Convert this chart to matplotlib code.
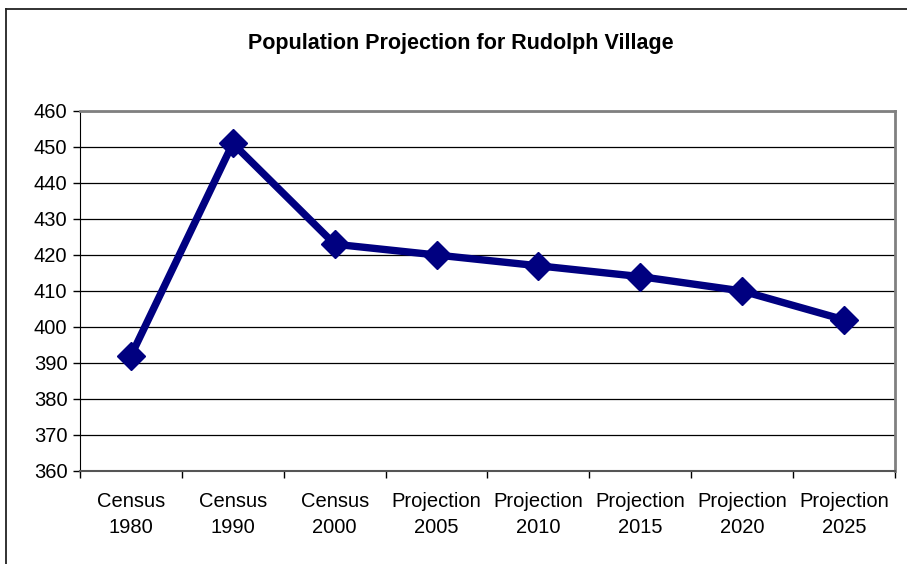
import numpy as np
import matplotlib.pyplot as plt
from matplotlib.lines import Line2D
from matplotlib.ticker import MultipleLocator, FixedLocator

plt.rcParams['font.family'] = ['Liberation Sans', 'DejaVu Sans']

# population by census / projection year
categories = ['Census\n1980', 'Census\n1990', 'Census\n2000', 'Projection\n2005',
              'Projection\n2010', 'Projection\n2015', 'Projection\n2020', 'Projection\n2025']
population = [392, 451, 423, 420, 417, 414, 410, 402]

W, H = 907, 564
fig = plt.figure(figsize=(W / 100, H / 100), dpi=100)

# outer chart frame (runs off the right and bottom edges)
fig.add_artist(Line2D([6 / W, 6 / W], [0, 1 - 9 / H], color='#222222', lw=1.3))
fig.add_artist(Line2D([6 / W, 1], [1 - 9 / H, 1 - 9 / H], color='#222222', lw=1.3))

ax = fig.add_axes([80 / W, (H - 471) / H, 815 / W, 360 / H])

x = np.arange(len(categories))
ax.plot(x, population, color='#000080', lw=5.3, marker='D', markersize=14.5,
        markerfacecolor='#000080', markeredgecolor='#000080', solid_joinstyle='miter',
        zorder=3)

ax.set_xlim(-0.5, len(categories) - 0.5)
ax.set_ylim(360, 460)
ax.yaxis.set_major_locator(MultipleLocator(10))
ax.grid(axis='y', color='black', lw=0.9)

ax.set_xticks(x)
ax.set_xticklabels(categories, fontsize=14.5, linespacing=1.45)
ax.xaxis.set_minor_locator(FixedLocator(np.arange(len(categories) + 1) - 0.5))
ax.tick_params(axis='x', which='major', length=0, pad=15)
ax.tick_params(axis='x', which='minor', length=5, width=1, color='black')
ax.tick_params(axis='y', labelsize=14.5, length=5, width=1, pad=4)

for side in ['top', 'right']:
    ax.spines[side].set_color('#808080')
    ax.spines[side].set_linewidth(2)
ax.spines['left'].set_color('black')
ax.spines['bottom'].set_color('#555555')
ax.spines['bottom'].set_linewidth(1.5)

fig.text(461 / W, 1 - 43 / H, 'Population Projection for Rudolph Village',
         ha='center', va='center', fontsize=15.5, fontweight='bold')

fig.savefig('out.png', dpi=100)
